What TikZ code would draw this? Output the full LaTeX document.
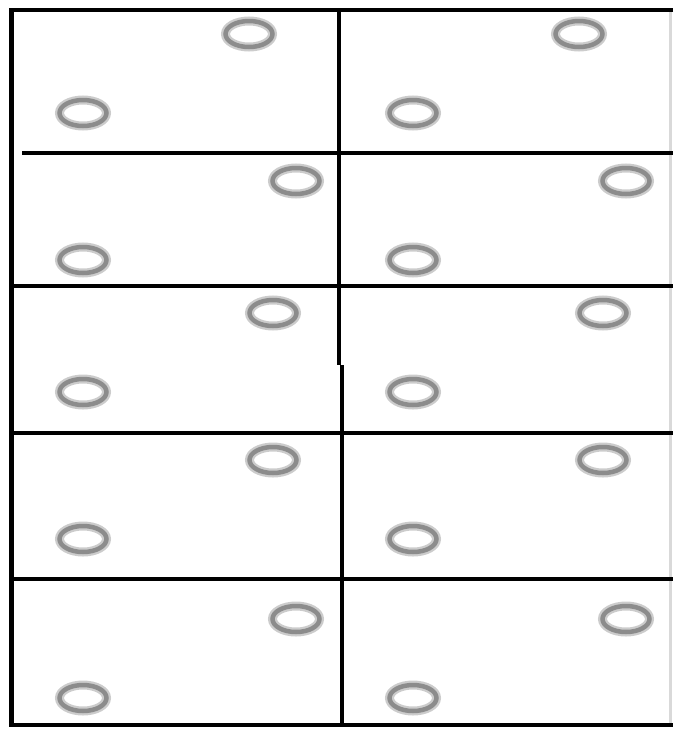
\documentclass[tikz,border=0pt]{standalone}
\usepackage{tikz}
\usetikzlibrary{calc}

\tikzset{
  frame/.style={line width=4pt, black},
  ringhalo/.style={draw=gray!40, line width=9pt},
  ringcore/.style={draw=gray!90, line width=4.5pt},
}

\begin{document}
\begin{tikzpicture}[x=1pt, y=-1pt]
\useasboundingbox (0,0) rectangle (673,729);
% faint right edge
\draw[gray!30, line width=3pt] (670,8) -- (670,727);
% outer frame
\draw[frame] (673,10) -- (11,10) -- (11,725) -- (673,725);
\draw[line width=5pt] (11,8) -- (11,727);
% middle divider
\draw[frame] (339,8) -- (339,365);
\draw[frame] (342,365) -- (342,727);
% row dividers
\draw[frame] (22,153) -- (673,153);
\foreach \y in {286,433,579}
  \draw[frame] (11,\y) -- (673,\y);
% rings: top row y, upper ring x (left col), lower ring y
\foreach \ty/\tx/\by [count=\r] in {34/248/113, 181/295/260, 313/272/392, 460/272/539, 619/295/698} {
  \foreach \dx in {0,330} {
    \coordinate (up\r\dx) at (\tx+\dx+1,\ty);
    \coordinate (lo\r\dx) at (84+\dx-1,\by);
    \foreach \c in {up\r\dx,lo\r\dx} {
      \draw[ringhalo] (\c) ellipse [x radius=23.5, y radius=13];
      \draw[ringcore] (\c) ellipse [x radius=23.5, y radius=13];
    }
  }
}
\end{tikzpicture}
\end{document}
